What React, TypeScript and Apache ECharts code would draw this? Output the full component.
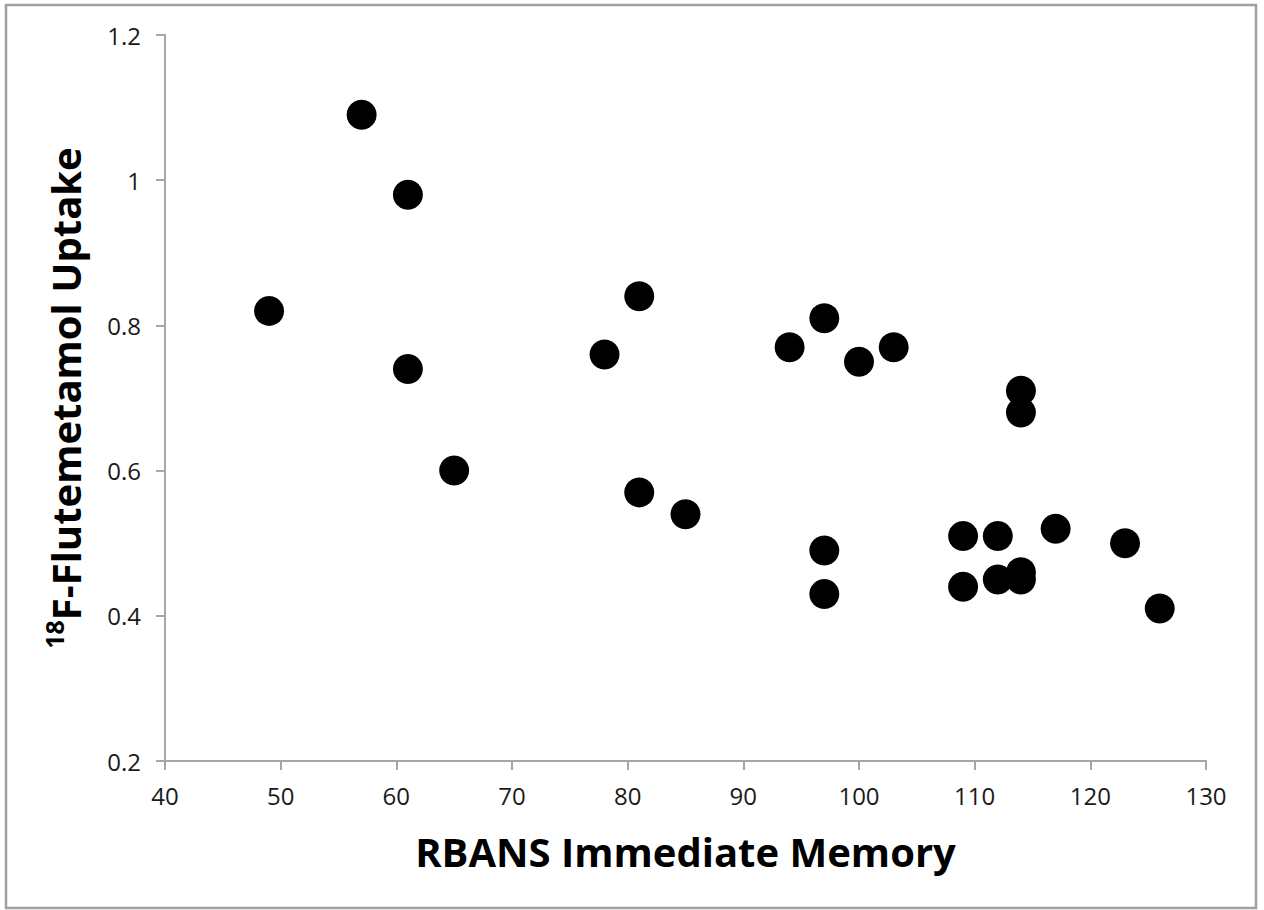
import React, { useEffect, useRef } from "react";
import * as echarts from "echarts";

const memoryScores = [49, 57, 61, 61, 65, 78, 81, 81, 85, 94, 97, 97, 97, 100, 103, 109, 109, 112, 112, 114, 114, 114, 114, 117, 123, 126];
const uptakeValues = [0.82, 1.09, 0.98, 0.74, 0.60, 0.76, 0.84, 0.57, 0.54, 0.77, 0.81, 0.49, 0.43, 0.75, 0.77, 0.51, 0.44, 0.51, 0.45, 0.71, 0.68, 0.46, 0.45, 0.52, 0.50, 0.41];

const xTitle = "RBANS Immediate Memory";
const yTitleSup = "18";
const yTitleMain = "F-Flutemetamol Uptake";

export default function App() {
  const ref = useRef<HTMLDivElement>(null);
  useEffect(() => {
    if (!ref.current) return;
    const chart = echarts.init(ref.current, null, { renderer: "svg" });
    const font = "'Open Sans', 'Liberation Sans', sans-serif";
    const axisColor = "#a6a6a6";
    chart.setOption({
      animation: false,
      backgroundColor: "#ffffff",
      textStyle: { fontFamily: font },
      grid: { left: 165, right: 58, top: 35, bottom: 149 },
      graphic: [
        {
          type: "rect",
          shape: { x: 6, y: 5, width: 1250, height: 903 },
          style: { fill: "none", stroke: "#a0a0a0", lineWidth: 2.5 },
          silent: true,
        },
      ],
      xAxis: {
        type: "value",
        min: 40,
        max: 130,
        interval: 10,
        name: xTitle,
        nameLocation: "middle",
        nameGap: 70,
        nameTextStyle: { fontSize: 40, fontWeight: "bold", color: "#000", fontFamily: font },
        axisLine: { show: true, lineStyle: { color: axisColor, width: 2 } },
        axisTick: { show: true, length: 9, lineStyle: { color: axisColor, width: 2 } },
        axisLabel: { fontSize: 24, color: "#1a1a1a", margin: 22, fontFamily: font },
        splitLine: { show: false },
      },
      yAxis: {
        type: "value",
        min: 0.2,
        max: 1.2,
        interval: 0.2,
        name: `{sup|${yTitleSup}}{main|${yTitleMain}}`,
        nameLocation: "middle",
        nameGap: 76,
        nameRotate: 90,
        nameTextStyle: {
          color: "#000",
          rich: {
            sup: { fontSize: 25, fontWeight: "bold", color: "#000", fontFamily: font, verticalAlign: "top", lineHeight: 48 },
            main: { fontSize: 40, fontWeight: "bold", color: "#000", fontFamily: font, lineHeight: 48 },
          },
        },
        axisLine: { show: true, lineStyle: { color: axisColor, width: 2 } },
        axisTick: { show: true, length: 9, lineStyle: { color: axisColor, width: 2 } },
        axisLabel: {
          fontSize: 24,
          color: "#1a1a1a",
          margin: 24,
          fontFamily: font,
          formatter: (v: number) => String(Math.round(v * 10) / 10),
        },
        splitLine: { show: false },
      },
      series: [
        {
          type: "scatter",
          symbol: "circle",
          symbolSize: 30,
          itemStyle: { color: "#000000", opacity: 1 },
          data: memoryScores.map((x, i) => [x, uptakeValues[i]]),
        },
      ],
    });
    return () => chart.dispose();
  }, []);
  return (
    <div
      ref={ref}
      style={{ position: "fixed", left: 0, top: 0, width: 1264, height: 910, background: "#fff" }}
    />
  );
}
